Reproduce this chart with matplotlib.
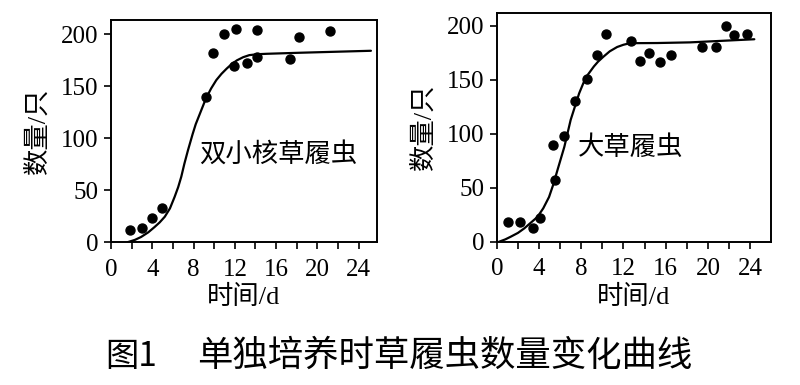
import matplotlib
matplotlib.use("Agg")
import matplotlib.pyplot as plt

plt.rcParams['font.family'] = ['Liberation Serif', 'Noto Sans CJK SC', 'DejaVu Sans']

# ---- Left panel: 双小核草履虫 ----
left_pts_t = [1.8, 3.0, 3.95, 4.9, 9.2, 9.9, 10.9, 12.15, 11.9, 13.2, 14.1, 14.1, 17.3, 18.2, 21.2]
left_pts_n = [11.6, 13.2, 23, 32.5, 139.5, 182, 200, 205.5, 169.5, 172, 204, 178, 176, 197, 203.5]
left_curve_t = [1.6, 2.3, 2.9, 3.6, 4.2, 4.7, 5.2, 5.7, 6.15, 6.5, 6.8, 7.1, 7.45, 7.9, 8.2, 8.6, 9.2,
                9.7, 10.2, 10.7, 11.2, 11.7, 12.2, 12.8, 13.4, 14.2, 15.1, 18.3, 25.2]
left_curve_n = [0, 2.2, 5, 9.5, 14.5, 19, 24.5, 32.5, 43.5, 53, 63, 75.5, 88.5, 104, 113.5, 123.5, 138.5,
                148, 156, 162, 167, 171.5, 175, 178, 180, 180.9, 181.3, 182.3, 184.2]

# ---- Right panel: 大草履虫 ----
right_pts_t = [1.1, 2.2, 3.4, 4.1, 5.3, 5.55, 6.35, 7.45, 8.5, 9.5, 10.35, 12.7, 13.6, 14.45, 15.45, 16.55, 19.4, 20.8, 21.7, 22.5, 23.7]
right_pts_n = [18, 18.5, 12.4, 22, 89.7, 57.2, 98.3, 130.2, 150.9, 173.4, 192.6, 185.8, 167.3, 175.2, 166.9, 173.4, 180.2, 180.2, 200, 191.4, 192.6]
right_curve_t = [0.2, 0.8, 1.3, 2.0, 2.6, 3.2, 3.85, 4.4, 4.95, 5.35, 5.75, 6.4, 7.0, 7.8, 8.2, 8.6,
                 9.2, 9.6, 10.1, 10.7, 11.4, 12.0, 12.6, 13.5, 15.2, 18.3, 24.4]
right_curve_n = [0, 2.2, 4.6, 8.2, 12.4, 17.5, 23, 31, 41.5, 53, 66.5, 88, 113, 137.5, 147, 154.5,
                 162.5, 167, 171.5, 176.5, 180.5, 182.6, 184, 184.1, 184.2, 184.8, 187.7]

x_major = [0, 4, 8, 12, 16, 20, 24]
x_minor = [2, 6, 10, 14, 18, 22]
y_ticks = [0, 50, 100, 150, 200]

fig = plt.figure(figsize=(8, 3.85), dpi=100)
axL = fig.add_axes([0.139, 0.371, 0.332, 0.577])
axR = fig.add_axes([0.621, 0.372, 0.343, 0.595])

cjk = ['Liberation Serif', 'Noto Sans CJK SC']

def style(ax, xmax, ymax, pts_t, pts_n, cur_t, cur_n, name, name_xy):
    ax.plot(cur_t, cur_n, color='black', lw=1.6, solid_capstyle='round',
            solid_joinstyle='round', clip_on=True)
    ax.scatter(pts_t, pts_n, s=42, color='black', zorder=3, clip_on=False)
    ax.set_xlim(0, xmax)
    ax.set_ylim(0, ymax)
    ax.set_xticks(x_major)
    ax.set_xticks(x_minor, minor=True)
    ax.set_yticks(y_ticks)
    for s in ax.spines.values():
        s.set_linewidth(1.4)
    ax.tick_params(axis='both', which='both', direction='out', length=5, width=1.2,
                   labelsize=18, pad=4)
    ax.tick_params(axis='x', which='major', pad=7)
    ax.set_xlabel('时间/d', fontsize=19, family=cjk, labelpad=3)
    ax.set_ylabel('数量/只', fontsize=19, family=cjk, labelpad=8)
    ax.text(name_xy[0], name_xy[1], name, fontsize=19, family=['Noto Sans CJK SC'],
            ha='center', va='center', transform=ax.transData)

style(axL, 25.77, 213.8, left_pts_t, left_pts_n, left_curve_t, left_curve_n,
      '双小核草履虫', (16.25, 85))
style(axR, 26.0, 212.3, right_pts_t, right_pts_n, right_curve_t, right_curve_n,
      '大草履虫', (12.7, 87))

fig.text(0.131, 0.075, '图1', fontsize=24, family=['Noto Sans CJK SC'],
         ha='left', va='center')
fig.text(0.246, 0.075, '单独培养时草履虫数量变化曲线', fontsize=25.5,
         family=['Noto Sans CJK SC'], ha='left', va='center')

fig.savefig('out.png', dpi=100)
